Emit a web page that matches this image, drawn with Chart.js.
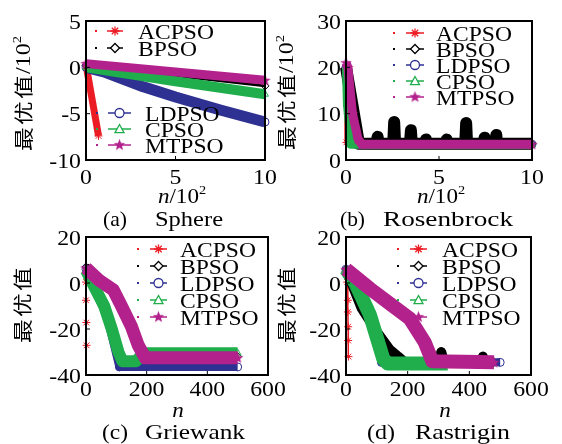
<!DOCTYPE html>
<html>
<head>
<meta charset="utf-8">
<script src="https://cdn.jsdelivr.net/npm/chart.js@4.4.1/dist/chart.umd.min.js"></script>
<style>
  html, body { margin: 0; padding: 0; background: #fff; }
  #wrap { position: relative; width: 562px; height: 444px; overflow: hidden; }
  #wrap canvas { position: absolute; left: 0; top: 0; }
</style>
</head>
<body>
<div id="wrap">
  <canvas id="sphere" width="562" height="444"></canvas>
  <canvas id="rosen" width="562" height="444"></canvas>
  <canvas id="griew" width="562" height="444"></canvas>
  <canvas id="rastr" width="562" height="444"></canvas>
</div>
<script>
const names = ['ACPSO', 'BPSO', 'LDPSO', 'CPSO', 'MTPSO'];
const colors = ['#ec1c24', '#000000', '#2e3192', '#1fae4b', '#b3228c'];

// (a) Sphere  -- x in 10^2 iterations, y in 10^2
const sphereXTicks = [0, 5, 10];
const sphereYTicks = [-10, -5, 0, 5];
const sphereAcX = [0, 0.7];
const sphereAcY = [0.3, -7.4];
const sphereBpX = [0, 10];
const sphereBpY = [0.2, -2.0];
const sphereLdX = [0, 1, 3.2, 5, 7.5, 10];
const sphereLdY = [0, -0.5, -2.1, -3.2, -4.6, -5.9];
const sphereCpX = [0, 5, 10];
const sphereCpY = [0, -1.5, -2.9];
const sphereMtX = [0, 10];
const sphereMtY = [0.4, -1.4];

// (b) Rosenbrock
const rosenXTicks = [0, 5, 10];
const rosenYTicks = [0, 10, 20, 30];
const rosenAcX = [0, 0.02, 0.25];
const rosenAcY = [19, 3.8, 3.6];
const rosenBpX = [0, 0.7, 1.64, 1.7, 1.76, 2.54, 2.59, 2.64, 3.44, 3.49, 3.54, 4.26, 4.3, 4.34, 5.37, 5.41, 5.45, 6.41, 6.46, 6.51, 7.41, 7.45, 7.49, 8.04, 8.08, 8.12, 10];
const rosenBpY = [20, 3.5, 3.5, 5.0, 3.5, 3.5, 8.2, 3.5, 3.5, 6.4, 3.5, 3.5, 4.4, 3.5, 3.5, 4.4, 3.5, 3.5, 8.0, 3.5, 3.5, 4.8, 3.5, 3.5, 5.4, 3.5, 3.5];
const rosenLdX = [0, 0.1, 0.5, 10];
const rosenLdY = [20, 14, 3.4, 3.4];
const rosenCpX = [0, 0.05, 0.25, 10];
const rosenCpY = [20, 12, 3.3, 3.3];
const rosenMtX = [0, 0.1, 0.35, 0.65, 0.85, 10];
const rosenMtY = [21, 20, 10, 4.5, 3.4, 3.4];

// (c) Griewank
const griewXTicks = [0, 200, 400, 600];
const griewYTicks = [-40, -20, 0, 20];
const griewAcX = [0, 0, 0, 1, 2];
const griewAcY = [5, 0.4, -7.5, -17.2, -27.1];
const griewBpX = [0, 90, 115, 150, 167, 185, 500];
const griewBpY = [7, -3, -9.5, -19, -25, -31, -32];
const griewLdX = [0, 70, 110, 500];
const griewLdY = [6, -15, -36.5, -36.5];
const griewCpX = [0, 21, 60, 85, 107, 120, 165, 190, 500];
const griewCpY = [5.5, 0, -10, -20, -30, -34, -34, -30.5, -30.5];
const griewMtX = [0, 45, 90, 115, 150, 172, 195, 500];
const griewMtY = [6.5, 1, -3, -9.5, -19, -27, -32.5, -32.5];

// (d) Rastrigin
const rastrXTicks = [0, 200, 400, 600];
const rastrYTicks = [-40, -20, 0, 20];
const rastrAcX = [2, 4, 6, 6, 7, 7, 8];
const rastrAcY = [5, 0.4, -7.5, -12.6, -19, -25, -32];
const rastrBpX = [0, 51, 99, 142, 169, 190, 300, 309, 318, 436, 444, 452, 480];
const rastrBpY = [6, -11, -21, -29, -32, -34.5, -34.5, -30, -34.5, -34.5, -32, -34.5, -34.5];
const rastrLdX = [0, 60, 100, 115, 500];
const rastrLdY = [6, -8, -22, -34.5, -34.5];
const rastrCpX = [0, 30, 78, 121, 135, 330];
const rastrCpY = [6, 0, -14, -33, -35, -35];
const rastrMtX = [0, 78, 142, 207, 255, 280, 480];
const rastrMtY = [6, -2.5, -9, -15.5, -25.7, -34, -34.5];

const serif = '"Liberation Serif", "Times New Roman", serif';
const cjk = '"Noto Sans CJK SC", sans-serif';

// five-point star marker for MTPSO
const mtStar = document.createElement('canvas');
mtStar.width = 13; mtStar.height = 13;
(function () {
  const c = mtStar.getContext('2d');
  c.beginPath();
  for (let k = 0; k < 10; k++) {
    const r = k % 2 ? 2.6 : 6;
    const ang = -Math.PI / 2 + k * Math.PI / 5;
    const px = 6.5 + r * Math.cos(ang), py = 6.8 + r * Math.sin(ang);
    if (k === 0) c.moveTo(px, py); else c.lineTo(px, py);
  }
  c.closePath();
  c.fillStyle = colors[4];
  c.fill();
})();
const marks = ['star', 'rectRot', 'circle', 'triangle', mtStar];

function stretchText(ctx, s, x, y, font, align, sx) {
  ctx.save();
  ctx.font = font;
  ctx.textAlign = align;
  ctx.translate(x, y);
  ctx.scale(sx, 1);
  ctx.fillText(s, 0, 0);
  ctx.restore();
}

function fitText(ctx, s, left, right, y, font) {
  ctx.save();
  ctx.font = font;
  const w = ctx.measureText(s).width;
  ctx.translate(left, y);
  ctx.scale((right - left) / w, 1);
  ctx.textAlign = 'left';
  ctx.fillText(s, 0, 0);
  ctx.restore();
}

function drawMark(ctx, i, x, y) {
  ctx.save();
  ctx.strokeStyle = colors[i];
  ctx.lineWidth = 1.3;
  const r = 4.5;
  ctx.beginPath();
  if (i === 0) {
    for (let k = 0; k < 4; k++) {
      const ang = k * Math.PI / 4;
      ctx.moveTo(x - r * Math.cos(ang), y - r * Math.sin(ang));
      ctx.lineTo(x + r * Math.cos(ang), y + r * Math.sin(ang));
    }
  } else if (i === 1) {
    ctx.moveTo(x, y - r); ctx.lineTo(x + r, y); ctx.lineTo(x, y + r); ctx.lineTo(x - r, y); ctx.closePath();
  } else if (i === 2) {
    ctx.arc(x, y, r, 0, Math.PI * 2);
  } else if (i === 3) {
    ctx.moveTo(x, y - r); ctx.lineTo(x + r, y + r * 0.8); ctx.lineTo(x - r, y + r * 0.8); ctx.closePath();
  }
  if (i === 4) {
    ctx.drawImage(mtStar, x - 6.5, y - 6.8);
  } else {
    ctx.fillStyle = '#fff';
    if (i !== 0) ctx.fill();
    ctx.stroke();
  }
  ctx.restore();
}

function xLabel(ctx, cx, y, sup) {
  const parts = [['n', 'italic 21px ' + serif, 0]];
  if (sup) parts.push(['/10', '21px ' + serif, 0], ['2', '13px ' + serif, -9]);
  let total = 0;
  parts.forEach(p => { ctx.font = p[1]; p.push(ctx.measureText(p[0]).width * 1.1); total += p[3]; });
  let x = cx - total / 2;
  parts.forEach(p => { stretchText(ctx, p[0], x, y + p[2], p[1], 'left', 1.1); x += p[3]; });
}

function yLabel(ctx, cx, cy, sup) {
  ctx.save();
  ctx.translate(cx, cy);
  ctx.rotate(-Math.PI / 2);
  ctx.textBaseline = 'middle';
  const chars = ['最', '优', '值'];
  const pitch = 26;
  let tail = [];
  if (sup) tail = [['/10', '20px ' + serif, 1], ['2', '12px ' + serif, -6]];
  let total = chars.length * pitch;
  tail.forEach(p => { ctx.font = p[1]; p.push(ctx.measureText(p[0]).width * 1.2); total += p[3]; });
  let x = -total / 2;
  chars.forEach(ch => { stretchText(ctx, ch, x + 1, 0, '19px ' + cjk, 'left', 1.25); x += pitch; });
  tail.forEach(p => { stretchText(ctx, p[0], x, p[2], p[1], 'left', 1.2); x += p[3]; });
  ctx.restore();
}

function legend(ctx, g) {
  g.rows.forEach((y, k) => {
    const i = g.idx[k];
    ctx.fillStyle = colors[i];
    ctx.fillRect(g.dot - 1, y - 1, 2, 2);
    ctx.strokeStyle = colors[i];
    ctx.lineWidth = 1.5;
    ctx.beginPath(); ctx.moveTo(g.x1, y); ctx.lineTo(g.x2, y); ctx.stroke();
    drawMark(ctx, i, (g.x1 + g.x2) / 2, y);
    ctx.fillStyle = '#000';
    stretchText(ctx, names[i], g.text, y + 7.5, '22px ' + serif, 'left', 1.07);
  });
}

const deco = {
  id: 'deco',
  afterDatasetsDraw(chart, args, o) {
    const ctx = chart.ctx, a = chart.chartArea;
    const sx = chart.scales.x, sy = chart.scales.y;
    ctx.save();
    ctx.fillStyle = '#000';
    ctx.strokeStyle = '#000';
    ctx.lineWidth = 1;
    o.xTicks.forEach(v => {
      const px = sx.getPixelForValue(v);
      ctx.beginPath(); ctx.moveTo(px, a.bottom); ctx.lineTo(px, a.bottom - 4); ctx.stroke();
      stretchText(ctx, String(v), px, o.xTickY, '22px ' + serif, 'center', 1.08);
    });
    o.yTicks.forEach(v => {
      const py = sy.getPixelForValue(v);
      ctx.beginPath(); ctx.moveTo(a.left, py); ctx.lineTo(a.left + 4, py); ctx.stroke();
      stretchText(ctx, String(v), a.left - 5, py + 7.5, '22px ' + serif, 'right', 1.08);
    });
    ctx.lineWidth = 2;
    ctx.strokeRect(a.left, a.top, a.right - a.left, a.bottom - a.top);
    o.legends.forEach(g => legend(ctx, g));
    ctx.fillStyle = '#000';
    xLabel(ctx, o.xLab[0], o.xLab[1], o.sup);
    yLabel(ctx, o.yLab[0], o.yLab[1], o.sup);
    fitText(ctx, o.tag, o.tagPos[0], o.tagPos[1], o.titleY, '22px ' + serif);
    fitText(ctx, o.name, o.namePos[0], o.namePos[1], o.titleY, '22px ' + serif);
    ctx.restore();
  }
};

function plot(id, area, xTicks, yTicks, xs, ys, widths, o) {
  const datasets = xs.map((xa, i) => ({
    label: names[i],
    data: xa.map((x, k) => ({ x: x, y: ys[i][k] })),
    borderColor: colors[i],
    backgroundColor: colors[i],
    borderWidth: widths[i],
    borderJoinStyle: 'round',
    pointStyle: marks[i],
    pointRadius: 4,
    pointBorderWidth: 1,
    pointBorderColor: colors[i],
    pointBackgroundColor: 'rgba(0,0,0,0)',
    order: 5 - i,
    clip: false,
    tension: 0
  }));
  o.xTicks = xTicks;
  o.yTicks = yTicks;
  return new Chart(document.getElementById(id), {
    type: 'line',
    data: { datasets: datasets },
    options: {
      responsive: false,
      animation: false,
      events: [],
      layout: { padding: { left: area[0], top: area[1], right: 562 - area[2], bottom: 444 - area[3] } },
      scales: {
        x: { type: 'linear', display: false, min: xTicks[0], max: xTicks[xTicks.length - 1] },
        y: { type: 'linear', display: false, min: yTicks[0], max: yTicks[yTicks.length - 1] }
      },
      plugins: { legend: { display: false }, tooltip: { enabled: false }, deco: o }
    },
    plugins: [deco]
  });
}

plot('sphere', [86, 21, 265, 160], sphereXTicks, sphereYTicks,
  [sphereAcX, sphereBpX, sphereLdX, sphereCpX, sphereMtX],
  [sphereAcY, sphereBpY, sphereLdY, sphereCpY, sphereMtY],
  [7, 3, 11, 10, 9],
  { xTickY: 184, sup: true, xLab: [182, 203], yLab: [24, 94], tag: '(a)', tagPos: [103, 127], name: 'Sphere', namePos: [155, 223], titleY: 226,
    legends: [{ rows: [31, 48], idx: [0, 1], dot: 96, x1: 107, x2: 123, text: 138 },
              { rows: [113, 129, 145], idx: [2, 3, 4], dot: 97, x1: 108, x2: 131, text: 145 }] });

plot('rosen', [346, 21, 532, 160], rosenXTicks, rosenYTicks,
  [rosenAcX, rosenBpX, rosenLdX, rosenCpX, rosenMtX],
  [rosenAcY, rosenBpY, rosenLdY, rosenCpY, rosenMtY],
  [4, 12, 8, 8, 9],
  { xTickY: 184, sup: true, xLab: [441, 203], yLab: [287, 93], tag: '(b)', tagPos: [340, 365], name: 'Rosenbrock', namePos: [383, 513], titleY: 226,
    legends: [{ rows: [33, 49, 65, 81, 97], idx: [0, 1, 2, 3, 4], dot: 394, x1: 406, x2: 424, text: 436 }] });

plot('griew', [86, 237, 268, 375], griewXTicks, griewYTicks,
  [griewAcX, griewBpX, griewLdX, griewCpX, griewMtX],
  [griewAcY, griewBpY, griewLdY, griewCpY, griewMtY],
  [1.5, 8, 8, 12, 13],
  { xTickY: 396, sup: false, xLab: [178, 417], yLab: [23, 305], tag: '(c)', tagPos: [102, 128], name: 'Griewank', namePos: [145, 245], titleY: 439,
    legends: [{ rows: [249, 266, 283, 300, 317], idx: [0, 1, 2, 3, 4], dot: 138, x1: 150, x2: 167, text: 180 }] });

plot('rastr', [346, 237, 531, 375], rastrXTicks, rastrYTicks,
  [rastrAcX, rastrBpX, rastrLdX, rastrCpX, rastrMtX],
  [rastrAcY, rastrBpY, rastrLdY, rastrCpY, rastrMtY],
  [1.5, 10, 8, 14, 14],
  { xTickY: 396, sup: false, xLab: [445, 417], yLab: [287, 305], tag: '(d)', tagPos: [367, 395], name: 'Rastrigin', namePos: [415, 510], titleY: 439,
    legends: [{ rows: [249, 266, 283, 300, 317], idx: [0, 1, 2, 3, 4], dot: 398, x1: 410, x2: 427, text: 442 }] });
</script>
</body>
</html>
